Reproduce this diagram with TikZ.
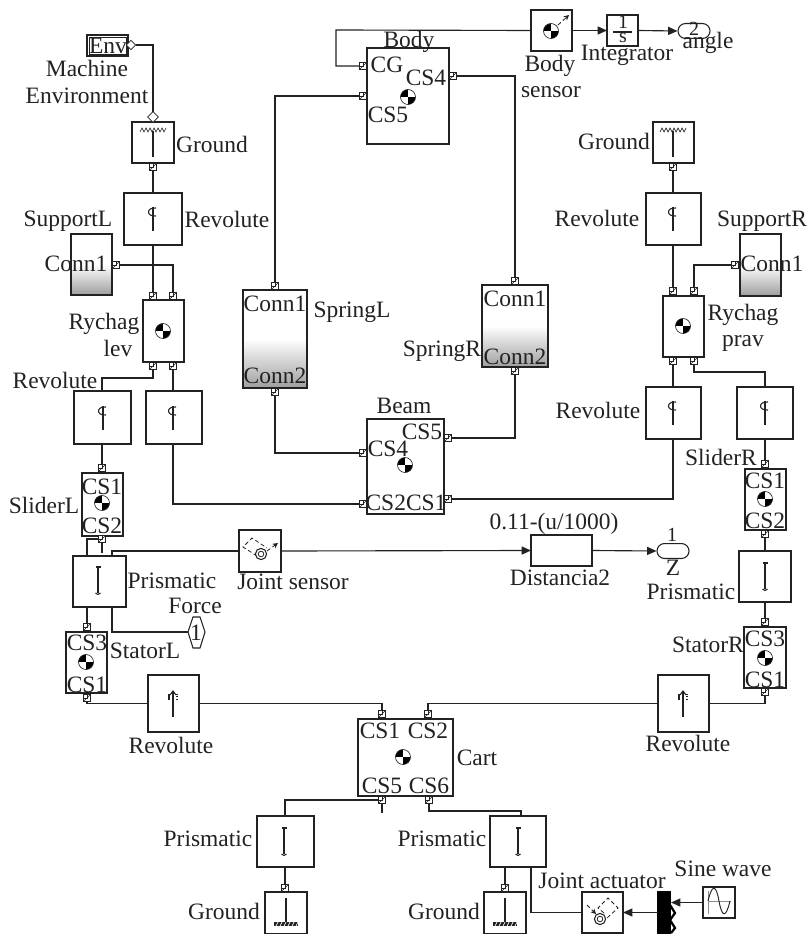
\documentclass[tikz,border=0pt]{standalone}
\usepackage{fontspec}
\setmainfont{Liberation Serif}
\usetikzlibrary{arrows.meta,shapes.geometric}
\definecolor{ink}{HTML}{222222}
\tikzset{
  blockbox/.style={draw=ink,line width=1pt,inner sep=0pt,outer sep=0pt,fill=white},
  portbox/.style={draw=ink,line width=.55pt,fill=white,minimum size=5.4pt,inner sep=0pt,outer sep=0pt,
    path picture={\draw[ink,line width=.5pt] (path picture bounding box.south west)--(path picture bounding box.north east);
      \draw[ink,line width=.5pt] (path picture bounding box.north west) rectangle (path picture bounding box.center);}},
  opendiam/.style={shape=diamond,draw=ink,line width=.6pt,fill=white,aspect=1,inner sep=0pt,outer sep=0pt,minimum size=8pt},
  txt/.style={text=ink,font=\fontsize{17.6pt}{20pt}\selectfont,anchor=base,inner sep=0pt,outer sep=0pt},
  smalltxt/.style={text=ink,font=\fontsize{15pt}{17pt}\selectfont,anchor=base,inner sep=0pt,outer sep=0pt},
  wire/.style={draw=ink,line width=.85pt},
  sigwire/.style={draw=ink,line width=.85pt,-{Triangle[length=7pt,width=6pt]}},
  iconline/.style={draw=ink,line width=.8pt},
  dashicon/.style={draw=ink,line width=.6pt,densely dashed},
  connbox/.style={shade,top color=white,bottom color=black!38,middle color=white},
  pill/.style={draw=ink,line width=.8pt,rounded corners=5.6pt,inner sep=0pt,fill=white}
}
\newcommand{\blk}[6][]{\pgfmathsetmacro{\cx}{(#3+#5)/2}\pgfmathsetmacro{\cy}{(#4+#6)/2}%
  \pgfmathsetmacro{\bw}{(#5-#3)*0.75}\pgfmathsetmacro{\bh}{(#6-#4)*0.75}%
  \node[blockbox,minimum width=\bw pt,minimum height=\bh pt,#1] (#2) at (\cx,\cy) {};}
\newcommand{\prt}[3]{\node[portbox] (#1) at (#2,#3) {};}
\newcommand{\lab}[4]{\node[txt] (#1) at (#2,#3) {#4};}
\newcommand{\masssym}[2]{\begin{scope}[shift={(#1,#2)}]
  \begin{scope}\clip (0,0) circle[radius=7.5];
    \fill[black] (-9,-9) rectangle (0,0); \fill[black] (0,0) rectangle (9,9);\end{scope}
  \draw[ink,line width=.5pt] (0,0) circle[radius=7.5];\end{scope}}
\newcommand{\revsym}[2]{\begin{scope}[shift={(#1,#2)}]
  \draw[iconline] (0,-12) -- (0,12);
  \draw[iconline] (3,-11) .. controls (-7,-12) and (-7,-2) .. (3,-3);\end{scope}}
\newcommand{\revtop}[2]{\begin{scope}[shift={(#1,#2)}]
  \draw[iconline] (0,-12) -- (0,14);
  \draw[iconline] (-4,-9) -- (-4,-3);
  \draw[iconline,densely dotted] (4,-9) -- (4,-3);
  \draw[iconline] (-3,-8) -- (0,-12) -- (3,-8);\end{scope}}
\newcommand{\prismsym}[2]{\begin{scope}[shift={(#1,#2)}]
  \draw[iconline] (0,-13) -- (0,13);
  \draw[iconline] (-2.5,-13) -- (2.5,-13);
  \draw[iconline] (-2.5,13) -- (0,14.5) -- (2.5,13);\end{scope}}
\begin{document}
\begin{tikzpicture}[x=0.75pt,y=-0.75pt]
\useasboundingbox (0,0) rectangle (809,934);
\fill[white] (0,0) rectangle (809,934);
% blocks
\blk{env}{87}{35}{128}{56}
\draw[ink,line width=.6pt] (89,37) rectangle (126,54);
\blk{gndA}{132}{122}{174}{163}
\blk{revA}{124}{193}{182}{245}
\blk[connbox]{supL}{71}{234}{112}{295}
\blk{rychL}{143}{300}{184}{362}
\blk{revB}{74}{391}{131}{444}
\blk{revC}{146}{391}{202}{444}
\blk{sliL}{82}{473}{123}{536}
\blk{priL}{73}{556}{126}{607}
\blk{jsens}{239}{530}{281}{572}
\blk{staL}{66}{632}{107}{693}
\blk{revD}{148}{675}{199}{732}
\blk{body}{367}{48}{449}{144}
\blk{bsens}{531}{10}{572}{51}
\blk{integ}{607}{15}{638}{46}
\blk[connbox]{sprL}{243}{290}{307}{388}
\blk[connbox]{sprR}{482}{285}{548}{367}
\blk{beam}{367}{419}{444}{514}
\blk{dist}{531}{535}{592}{566}
\blk{gndB}{653}{122}{694}{163}
\blk{revE}{646}{193}{701}{245}
\blk[connbox]{supR}{740}{234}{781}{296}
\blk{rychR}{663}{296}{704}{357}
\blk{revF}{646}{387}{701}{439}
\blk{revG}{737}{387}{793}{439}
\blk{sliR}{745}{469}{786}{530}
\blk{priR}{739}{551}{791}{602}
\blk{staR}{744}{627}{786}{688}
\blk{revH}{658}{675}{709}{732}
\blk{cart}{358}{719}{453}{796}
\blk{priC}{257}{816}{314}{867}
\blk{priD}{490}{816}{546}{867}
\blk{gndC}{265}{892}{307}{934}
\blk{gndD}{484}{892}{526}{934}
\blk{jact}{582}{892}{623}{933}
\blk{sine}{703}{887}{735}{918}
\blk[fill=black,draw=black]{mux}{658}{892}{670}{933}
\node[pill,minimum width=24pt,minimum height=11.2pt] (outA) at (694,31) {};
\node[pill,minimum width=24pt,minimum height=11.2pt] (outZ) at (673,551) {};
\draw[ink,line width=.8pt,fill=white] (188,632) -- (193,617) -- (200,617) -- (205,632) -- (200,648) -- (193,648) -- cycle;
\coordinate (forceW) at (188,632);
% ports
\node[opendiam,minimum size=7pt] (dEnv) at (131,45) {};
\node[opendiam] (dGnd) at (153,117) {};
\prt{pGndA}{153}{167}
\prt{pSupL}{116}{265}
\prt{pRLa}{153}{296}\prt{pRLb}{173}{296}\prt{pRLc}{153}{366}\prt{pRLd}{173}{366}
\prt{pSLa}{102}{468}\prt{pSLb}{102}{539}
\prt{pStLa}{87}{627}\prt{pStLb}{87}{698}
\prt{pBCG}{363}{66}\prt{pBC5}{363}{96}\prt{pBC4}{453}{76}
\prt{pSpLa}{275}{286}\prt{pSpLb}{275}{392}
\prt{pSpRa}{515}{281}\prt{pSpRb}{515}{371}
\prt{pBe4}{363}{453}\prt{pBe2}{363}{504}\prt{pBe5}{448}{438}\prt{pBe1}{448}{499}
\prt{pGndB}{673}{167}
\prt{pSupR}{735}{265}
\prt{pRRa}{673}{291}\prt{pRRb}{694}{291}\prt{pRRc}{673}{361}\prt{pRRd}{694}{361}
\prt{pSRa}{765}{464}\prt{pSRb}{765}{534}
\prt{pStRa}{765}{622}\prt{pStRb}{765}{692}
\prt{pC1}{382}{714}\prt{pC2}{428}{714}\prt{pC5}{382}{800}\prt{pC6}{429}{800}
\prt{pGndC}{285}{888}\prt{pGndD}{505}{888}
% wires
\draw[wire] (dEnv.east) -| (dGnd.north);
\draw[wire] (pGndA.south) -- (revA.north -| pGndA);
\draw[wire] (revA.south -| pRLa) -- (pRLa.north);
\draw[wire] (pSupL.east) -| (pRLb.north);
\draw[wire] (pRLc.south) -- (pRLc |- 0,378) -| (revB.north -| pSLa);
\draw[wire] (pRLd.south) -- (revC.north -| pRLd);
\draw[wire] (revB.south -| pSLa) -- (pSLa.north);
\draw[wire] (revC.south -| pRLd) |- (pBe2.west);
\draw[wire] (pSLb.south) -- (102,553);
\draw[wire] (priL.north -| pStLa) |- (pSLb.west);
\draw[wire] (priL.north -| 112,0) |- (jsens.west);
\draw[wire] (priL.south -| pStLa) -- (pStLa.north);
\draw[wire] (priL.south -| 112,0) |- (forceW);
\draw[wire] (pStLb.south) |- (revD.west);
\draw[wire] (revD.east) -| (pC1.north);
\draw[wire] (pBCG.west) -| (336,30) -- (bsens.west);
\draw[wire] (pBC5.west) -| (pSpLa.north);
\draw[wire] (pBC4.east) -| (pSpRa.north);
\draw[wire] (pSpLb.south) |- (pBe4.west);
\draw[wire] (pSpRb.south) |- (pBe5.east);
\draw[wire] (pGndB.south) -- (revE.north -| pGndB);
\draw[wire] (revE.south -| pRRa) -- (pRRa.north);
\draw[wire] (pSupR.west) -| (pRRb.north);
\draw[wire] (pRRc.south) -- (revF.north -| pRRc);
\draw[wire] (pRRd.south) |- (765,372) -- (revG.north -| 765,0);
\draw[wire] (revF.south -| pRRc) |- (pBe1.east);
\draw[wire] (revG.south -| pSRa) -- (pSRa.north);
\draw[wire] (pSRb.south) -- (priR.north -| pSRb);
\draw[wire] (priR.south -| pStRa) -- (pStRa.north);
\draw[wire] (pStRb.south) |- (revH.east);
\draw[wire] (revH.west) -| (pC2.north);
\draw[wire] (pC5.south) -- (382,813);
\draw[wire] (pC5.west) -| (priC.north -| pGndC);
\draw[wire] (pC6.south) |- (521,811) -- (priD.north -| 521,0);
\draw[wire] (priC.south -| pGndC) -- (pGndC.north);
\draw[wire] (priD.south -| pGndD) -- (pGndD.north);
\draw[wire] (priD.south -| 531,0) |- (jact.west);
\draw[sigwire] (bsens.east) -- (integ.west);
\draw[sigwire] (integ.east) -- (outA.west);
\draw[sigwire] (jsens.east) -- (dist.west);
\draw[sigwire] (dist.east) -- (outZ.west);
\draw[sigwire] (mux.west) -- (jact.east);
\draw[sigwire] (sine.west) -- (671,902.5);
\draw[black,line width=1.7pt] (670,905) -- (675,913) -- (670,920) -- (675,928) -- (671,933);
% icons
\draw[iconline] (153,131) -- (153,157);
\draw[iconline] (673,131) -- (673,157);
\foreach \gx in {153,673}{\draw[ink,line width=.5pt] (\gx-13,132) -- ++(2,-4) -- ++(2,4) -- ++(2,-4) -- ++(2,4) -- ++(2,-4) -- ++(2,4) -- ++(2,-4) -- ++(2,4) -- ++(2,-4) -- ++(2,4) -- ++(2,-4) -- ++(2,4) -- ++(2,-4);}
\draw[iconline] (286,898) -- (286,922);
\draw[iconline] (505,898) -- (505,922);
\foreach \gx in {286,505}{\fill[ink] (\gx-12,922) rectangle (\gx+12,926);
  \foreach \k in {-10,-6,...,10}{\draw[white,line width=.5pt] (\gx+\k,926) -- (\gx+\k+2,922);}}
\revsym{153}{219}\revsym{103}{418}\revsym{173}{418}\revsym{673}{219}\revsym{673}{413}\revsym{765}{413}
\revtop{173}{703}\revtop{683}{703}
\prismsym{98}{580}\prismsym{765}{576}\prismsym{284}{841}\prismsym{518}{841}
\masssym{163}{331}\masssym{683}{326}\masssym{408}{97}\masssym{405}{465}\masssym{102}{503}\masssym{765}{499}
\masssym{86}{662}\masssym{765}{658}\masssym{403}{757}\masssym{551}{31}
\draw[dashicon,-{Stealth[length=4pt,width=4pt]}] (558,25) -- (569,15);
% joint sensor icon
\draw[dashicon] (257,556) -- (243,547) -- (252,538) -- (267,548);
\draw[ink,line width=.8pt,fill=white] (261,554) circle[radius=5.6];
\draw[ink,line width=.6pt] (261,554) circle[radius=2.8];
\draw[dashicon,-{Stealth[length=4pt,width=4pt]}] (267,551) -- (278,543);
% joint actuator icon
\draw[dashicon] (604,913) -- (598,908) -- (608,898) -- (618,908) -- (607,918);
\draw[ink,line width=.8pt,fill=white] (600,919) circle[radius=5.6];
\draw[ink,line width=.6pt] (600,919) circle[radius=2.8];
\draw[dashicon,-{Stealth[length=4pt,width=4pt]}] (587,905) -- (596,914);
% sine icon
\draw[black!45,line width=.5pt] (708,901) -- (731,901); \draw[black!45,line width=.5pt] (708,891) -- (708,914);
\draw[ink,line width=.7pt] (708,901) .. controls (712,884) and (716,884) .. (719,901) .. controls (722,918) and (726,918) .. (730,901);
\draw[ink,line width=.9pt] (613,32) -- (632,32);
% labels
\lab{tEnv}{108}{54}{Env}
\lab{tMach}{87}{77}{Machine}
\lab{tEnvir}{87}{104}{Environment}
\lab{tGa}{212}{153}{Ground}
\lab{tRa}{227}{228}{Revolute}
\lab{tSupL}{68}{227}{SupportL}
\lab{tCo1}{76}{272}{Conn1}
\lab{tRyL}{104}{329}{Rychag}
\lab{tlev}{118}{356}{lev}
\lab{tRb}{55}{388}{Revolute}
\lab{tSliL}{44}{513}{SliderL}
\lab{tS1}{102}{494}{CS1}
\lab{tS2}{102}{533}{CS2}
\lab{tPa}{172}{588}{Prismatic}
\lab{tFo}{195}{613}{Force}
\lab{tF1}{196}{640}{1}
\lab{tStL}{145}{658}{StatorL}
\lab{tS3}{87}{650}{CS3}
\lab{tS4}{87}{692}{CS1}
\lab{tRc}{171}{753}{Revolute}
\lab{tJs}{293}{589}{Joint sensor}
\lab{tBody}{409}{48}{Body}
\lab{tCG}{387}{73}{CG}
\lab{tC4}{426}{86}{CS4}
\lab{tC5}{388}{123}{CS5}
\lab{tBs}{550}{72}{Body}
\lab{tSe}{551}{98}{sensor}
\lab{tInt}{627}{61}{Integrator}
\node[smalltxt] (tI1) at (623,29) {1};
\node[smalltxt] (tIs) at (623,43) {s};
\node[smalltxt] (t2) at (694,36) {2};
\lab{tang}{708}{49}{angle}
\lab{tGb}{614}{150}{Ground}
\lab{tRe}{597}{227}{Revolute}
\lab{tSupR}{762}{227}{SupportR}
\lab{tCo2}{772}{272}{Conn1}
\lab{tRyR}{743}{320}{Rychag}
\lab{tprav}{743}{346}{prav}
\lab{tRf}{598}{418}{Revolute}
\lab{tSliR}{721}{465}{SliderR}
\lab{tR1}{765}{488}{CS1}
\lab{tR2}{765}{528}{CS2}
\lab{tPb}{691}{599}{Prismatic}
\lab{tStR}{708}{652}{StatorR}
\lab{tR3}{765}{646}{CS3}
\lab{tR4}{765}{687}{CS1}
\lab{tRh}{688}{751}{Revolute}
\lab{tSpL1}{275}{311}{Conn1}
\lab{tSpL2}{275}{383}{Conn2}
\lab{tSpL}{352}{317}{SpringL}
\lab{tSpR}{442}{356}{SpringR}
\lab{tSpR1}{515}{306}{Conn1}
\lab{tSpR2}{515}{364}{Conn2}
\lab{tBeam}{404}{413}{Beam}
\lab{tB5}{422}{439}{CS5}
\lab{tB4}{388}{456}{CS4}
\lab{tBb}{406}{510}{CS2CS1}
\lab{tFn}{554}{529}{0.11-(u/1000)}
\lab{tDi}{560}{585}{Distancia2}
\node[smalltxt] (tZ1) at (672,541) {1};
\lab{tZ}{673}{575}{Z}
\lab{tCa1}{380}{738}{CS1}
\lab{tCa2}{428}{738}{CS2}
\lab{tCa5}{382}{793}{CS5}
\lab{tCa6}{429}{793}{CS6}
\lab{tCart}{477}{765}{Cart}
\lab{tPc}{208}{846}{Prismatic}
\lab{tPd}{442}{846}{Prismatic}
\lab{tGc}{224}{919}{Ground}
\lab{tGd}{444}{919}{Ground}
\lab{tJa}{602}{888}{Joint actuator}
\lab{tSw}{723}{876}{Sine wave}
\end{tikzpicture}
\end{document}
